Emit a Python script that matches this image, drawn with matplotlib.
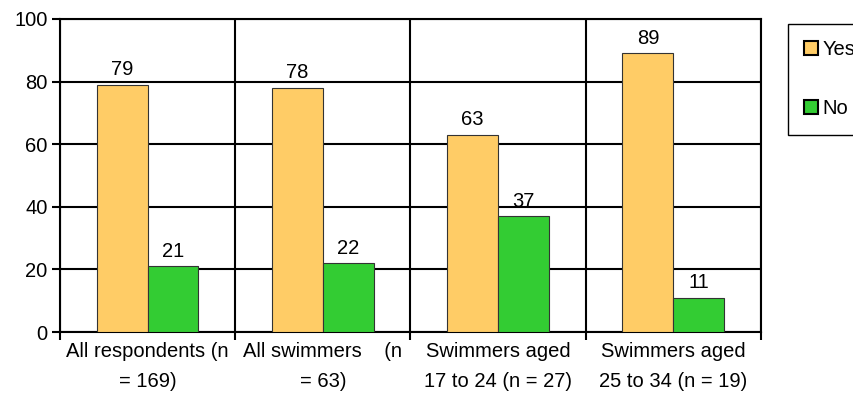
import matplotlib.pyplot as plt
import numpy as np

# data
categories = ['All respondents (n\n= 169)', 'All swimmers    (n\n= 63)',
              'Swimmers aged\n17 to 24 (n = 27)', 'Swimmers aged\n25 to 34 (n = 19)']
yes = [79, 78, 63, 89]
no = [21, 22, 37, 11]

plt.rcParams['font.family'] = 'Liberation Sans'
plt.rcParams['font.size'] = 14.5

fig = plt.figure(figsize=(8.54, 4.0), dpi=100)
ax = fig.add_axes([0.0703, 0.17, 0.891 - 0.0703, 0.9525 - 0.17])

x = np.arange(len(categories)) + 0.5
w = 0.29
b1 = ax.bar(x - w / 2, yes, w, color='#FFCC66', edgecolor='#333333', linewidth=0.8, label='Yes', zorder=3)
b2 = ax.bar(x + w / 2, no, w, color='#33CC33', edgecolor='#333333', linewidth=0.8, label='No', zorder=3)
ax.bar_label(b1, padding=4)
ax.bar_label(b2, padding=4)

ax.set_xlim(0, len(categories))
ax.set_ylim(0, 100)
ax.set_yticks(range(0, 101, 20))
ax.set_xticks(range(len(categories) + 1))
ax.set_xticklabels([])
ax.set_xticks(x, minor=True)
ax.set_xticklabels(categories, minor=True, linespacing=1.75)
ax.tick_params(axis='x', which='minor', length=0, pad=7)
ax.tick_params(axis='both', which='major', length=6, width=1.5, direction='out')
ax.tick_params(axis='y', pad=3)
ax.grid(True, which='major', color='black', linewidth=1.5, zorder=1)
for s in ax.spines.values():
    s.set_linewidth(1.5)

leg = fig.legend(loc='upper left', bbox_to_anchor=(788 / 854, 1 - 24 / 400),
                 frameon=True, fancybox=False, edgecolor='black', framealpha=1,
                 handlelength=0.7, handleheight=0.7, handletextpad=0.2,
                 labelspacing=2.0, borderpad=0.8, borderaxespad=0)
for h in leg.legend_handles:
    h.set_edgecolor('black')
    h.set_linewidth(1.5)

fig.savefig('out.png', dpi=100)
